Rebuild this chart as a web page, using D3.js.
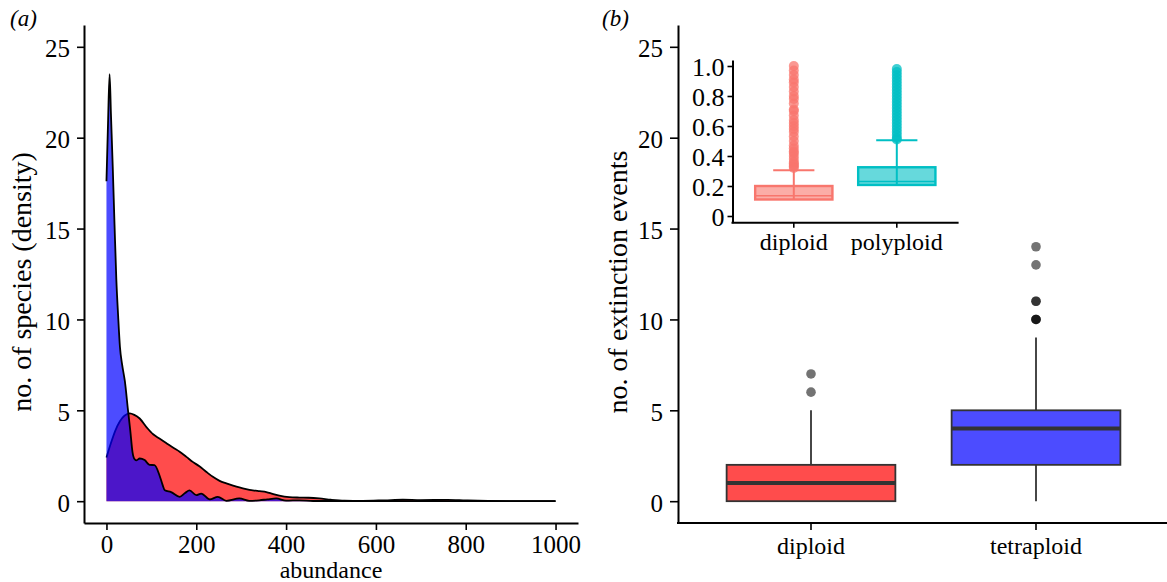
<!DOCTYPE html>
<html><head><meta charset="utf-8">
<script src="https://cdn.jsdelivr.net/npm/d3@7"></script>
<style>
body{margin:0;background:#fff}
text{font-family:"Liberation Serif","Times New Roman",serif;fill:#000}
</style>
</head><body>
<svg id="c" width="1167" height="582"></svg>
<script>
// ---------- data ----------
// panel (a): density of abundance, two groups (red drawn first, blue on top)
const redAbundance = [0,10,20,30,40,52,62,74,90,104,118,133,148,163,178,193,207,222,237,252,267,282,296,311,326,341,356,370,385,407,430,450,474,500,530,570,620,660,700,760,800,850,900,1000];
const redDensity   = [2.4,3.2,3.9,4.4,4.7,4.83,4.75,4.55,4.05,3.68,3.45,3.2,2.95,2.72,2.44,2.15,1.92,1.62,1.34,1.12,0.98,0.86,0.76,0.67,0.6,0.55,0.5,0.4,0.3,0.22,0.2,0.19,0.15,0.08,0.03,0.02,0.05,0.08,0.06,0.07,0.04,0.01,0,0];
const blueAbundance = [0,3.5,7,10,14,18,22,26,30,35,41,48,53,58,63,67,74,85,96,107,118,125,130,144,163,175,185,200,211,230,248,267,296,318,340,358,378,400,430,460,500,600,700,800,900,1000];
const blueDensity   = [17.6,20.8,23.5,21.3,18.4,15.2,12.2,10.2,8.5,7.5,6.6,5.0,3.9,2.7,2.3,2.25,2.35,2.26,2.0,1.98,1.43,0.9,0.6,0.5,0.24,0.45,0.6,0.33,0.42,0.1,0.24,0.02,0.15,0.02,0.05,0.1,0.15,0.03,0.05,0.01,0.01,0,0,0,0,0];
const abundanceTicks = [0,200,400,600,800,1000];
const densityTicks = [0,5,10,15,20,25];

// panel (b): number of extinction events
const mainGroups = ["diploid","tetraploid"];
const mainLower  = [0,0];
const mainQ1     = [0,2];
const mainMedian = [1,4];
const mainQ3     = [2,5];
const mainUpper  = [5,9];
const mainOutliers = [[6,7],[10,10,10,11,11,13,14]];
const mainColors = ["#ff0000","#0000ff"];
const eventTicks = [0,5,10,15,20,25];

// inset
const insetGroups = ["diploid","polyploid"];
const insetLower  = [0.11,0.207];
const insetQ1     = [0.11,0.207];
const insetMedian = [0.135,0.23];
const insetQ3     = [0.2,0.325];
const insetUpper  = [0.305,0.505];
const insetOutliers = [
  [0.32,0.33,0.34,0.35,0.36,0.38,0.40,0.42,0.43,0.45,0.47,0.50,0.53,0.56,0.58,0.60,0.62,0.64,0.67,0.70,0.71,0.75,0.78,0.80,0.83,0.86,0.89,0.91,0.94,0.97,1.0],
  [0.51,0.52,0.54,0.56,0.58,0.60,0.62,0.64,0.66,0.68,0.70,0.72,0.74,0.76,0.78,0.80,0.82,0.84,0.86,0.88,0.90,0.92,0.94,0.96,0.98]
];
const insetColors = ["#F8766D","#00BFC4"];
const insetTicks = [0,0.2,0.4,0.6,0.8,1.0];
const insetTickLabels = ["0","0.2","0.4","0.6","0.8","1.0"];

// ---------- drawing ----------
const svg = d3.select("#c");
const TICK_FS = 25, TITLE_FS = 28, XTITLE_FS = 24, CAT_FS = 24;

function styleAxis(g, fs){
  g.select(".domain").attr("stroke","#000").attr("stroke-width",2);
  g.selectAll(".tick line").attr("stroke","#000").attr("stroke-width",1.6);
  g.selectAll(".tick text").style("font-size",fs+"px").attr("fill","#000");
}

// ===== Panel (a) =====
const xa = d3.scaleLinear().domain([-50,1050]).range([84,578]);
const ya = d3.scaleLinear().domain([-1.2,26.2]).range([523,25]);

const redData = redAbundance.map((v,i)=>[v,redDensity[i]]);
const blueData = blueAbundance.map((v,i)=>[v,blueDensity[i]]);
const area = d3.area().x(d=>xa(d[0])).y0(ya(0)).y1(d=>ya(d[1])).curve(d3.curveMonotoneX);
const line = d3.line().x(d=>xa(d[0])).y(d=>ya(d[1])).curve(d3.curveMonotoneX);

const pa = svg.append("g");
pa.append("path").datum(redData).attr("d",area).attr("fill","#ff0000").attr("fill-opacity",0.7);
pa.append("path").datum(redData).attr("d",line).attr("fill","none").attr("stroke","#000").attr("stroke-width",1.8);
pa.append("path").datum(blueData).attr("d",area).attr("fill","#0000ff").attr("fill-opacity",0.7);
pa.append("path").datum(blueData).attr("d",line).attr("fill","none").attr("stroke","#000").attr("stroke-width",1.8);

const axA = svg.append("g").attr("transform","translate(84,0)")
  .call(d3.axisLeft(ya).tickValues(densityTicks).tickSize(7).tickSizeOuter(0).tickPadding(7));
styleAxis(axA, TICK_FS);
axA.selectAll(".tick text").attr("dy","0.4em");
const axAx = svg.append("g").attr("transform","translate(0,523)")
  .call(d3.axisBottom(xa).tickValues(abundanceTicks).tickFormat(d3.format("d")).tickSize(7).tickSizeOuter(0).tickPadding(5));
styleAxis(axAx, TICK_FS);

svg.append("text").attr("x",331).attr("y",578).attr("text-anchor","middle").style("font-size",XTITLE_FS+"px").text("abundance");
svg.append("text").attr("transform","translate(31,282) rotate(-90)").attr("text-anchor","middle").style("font-size",TITLE_FS+"px").text("no. of species (density)");
svg.append("text").attr("x",10).attr("y",26).style("font-size","23px").style("font-style","italic").text("(a)");

// ===== Panel (b) =====
const xb = d3.scaleLinear().domain([0.4,2.6]).range([676,1171]);
const yb = d3.scaleLinear().domain([-1.2,26.2]).range([523,25]);
const bw = 0.75;
const pb = svg.append("g");
mainGroups.forEach((gname,i)=>{
  const c = i+1;
  pb.append("line").attr("x1",xb(c)).attr("x2",xb(c)).attr("y1",yb(mainQ3[i])).attr("y2",yb(mainUpper[i])).attr("stroke","#333").attr("stroke-width",1.8);
  pb.append("line").attr("x1",xb(c)).attr("x2",xb(c)).attr("y1",yb(mainQ1[i])).attr("y2",yb(mainLower[i])).attr("stroke","#333").attr("stroke-width",1.8);
  pb.append("rect").attr("x",xb(c-bw/2)).attr("width",xb(c+bw/2)-xb(c-bw/2))
    .attr("y",yb(mainQ3[i])).attr("height",yb(mainQ1[i])-yb(mainQ3[i]))
    .attr("fill",mainColors[i]).attr("fill-opacity",0.7).attr("stroke","#333").attr("stroke-width",1.8);
  pb.append("line").attr("x1",xb(c-bw/2)).attr("x2",xb(c+bw/2)).attr("y1",yb(mainMedian[i])).attr("y2",yb(mainMedian[i])).attr("stroke","#333").attr("stroke-width",3.8);
  mainOutliers[i].forEach(v=>{
    pb.append("circle").attr("cx",xb(c)).attr("cy",yb(v)).attr("r",4.8).attr("fill","#000").attr("fill-opacity",0.55);
  });
});
const axB = svg.append("g").attr("transform","translate(678,0)")
  .call(d3.axisLeft(yb).tickValues(eventTicks).tickSize(8).tickSizeOuter(0).tickPadding(7));
styleAxis(axB, TICK_FS);
axB.selectAll(".tick text").attr("dy","0.4em");
const xbBand = d3.scaleOrdinal().domain(mainGroups).range([xb(1),xb(2)]);
const axBx = svg.append("g").attr("transform","translate(0,523)");
axBx.append("line").attr("x1",677).attr("x2",1167).attr("y1",0).attr("y2",0).attr("stroke","#000").attr("stroke-width",2);
mainGroups.forEach(gname=>{
  axBx.append("line").attr("x1",xbBand(gname)).attr("x2",xbBand(gname)).attr("y1",0).attr("y2",7).attr("stroke","#000").attr("stroke-width",1.6);
  axBx.append("text").attr("x",xbBand(gname)).attr("y",31).attr("text-anchor","middle").style("font-size",CAT_FS+"px").text(gname);
});
svg.append("text").attr("transform","translate(627,282) rotate(-90)").attr("text-anchor","middle").style("font-size",TITLE_FS+"px").text("no. of extinction events");
svg.append("text").attr("x",602).attr("y",26).style("font-size","23px").style("font-style","italic").text("(b)");

// ===== Inset =====
const xi = d3.scaleLinear().domain([0.4,2.6]).range([732,958.6]);
const yi = d3.scaleLinear().domain([-0.045,1.04]).range([222.75,60]);
const pi = svg.append("g");
insetGroups.forEach((gname,i)=>{
  const c = i+1, col = insetColors[i];
  pi.append("line").attr("x1",xi(c)).attr("x2",xi(c)).attr("y1",yi(insetLower[i])).attr("y2",yi(insetUpper[i])).attr("stroke",col).attr("stroke-width",2);
  pi.append("line").attr("x1",xi(c-0.2)).attr("x2",xi(c+0.2)).attr("y1",yi(insetUpper[i])).attr("y2",yi(insetUpper[i])).attr("stroke",col).attr("stroke-width",2);
  insetOutliers[i].forEach(v=>{
    pi.append("circle").attr("cx",xi(c)).attr("cy",yi(v)).attr("r",5).attr("fill",col).attr("fill-opacity",0.75);
  });
  pi.append("rect").attr("x",xi(c-bw/2)).attr("width",xi(c+bw/2)-xi(c-bw/2))
    .attr("y",yi(insetQ3[i])).attr("height",yi(insetQ1[i])-yi(insetQ3[i]))
    .attr("fill",col).attr("fill-opacity",0.6).attr("stroke",col).attr("stroke-width",2.4);
  pi.append("line").attr("x1",xi(c-bw/2)).attr("x2",xi(c+bw/2)).attr("y1",yi(insetMedian[i])).attr("y2",yi(insetMedian[i])).attr("stroke",col).attr("stroke-width",1.6);
});
const axI = svg.append("g").attr("transform","translate(732.5,0)")
  .call(d3.axisLeft(yi).tickValues(insetTicks).tickFormat((d,i)=>insetTickLabels[i]).tickSize(5).tickSizeOuter(0).tickPadding(3));
styleAxis(axI, 26);
axI.selectAll(".tick text").attr("dy","0.38em");
const xiBand = d3.scaleOrdinal().domain(insetGroups).range([xi(1),xi(2)]);
const axIx = svg.append("g").attr("transform","translate(0,222.75)");
axIx.append("line").attr("x1",731.5).attr("x2",958.6).attr("y1",0).attr("y2",0).attr("stroke","#000").attr("stroke-width",2);
insetGroups.forEach(gname=>{
  axIx.append("line").attr("x1",xiBand(gname)).attr("x2",xiBand(gname)).attr("y1",0).attr("y2",5).attr("stroke","#000").attr("stroke-width",1.6);
  axIx.append("text").attr("x",xiBand(gname)).attr("y",27).attr("text-anchor","middle").style("font-size",CAT_FS+"px").text(gname);
});
</script>
</body></html>
